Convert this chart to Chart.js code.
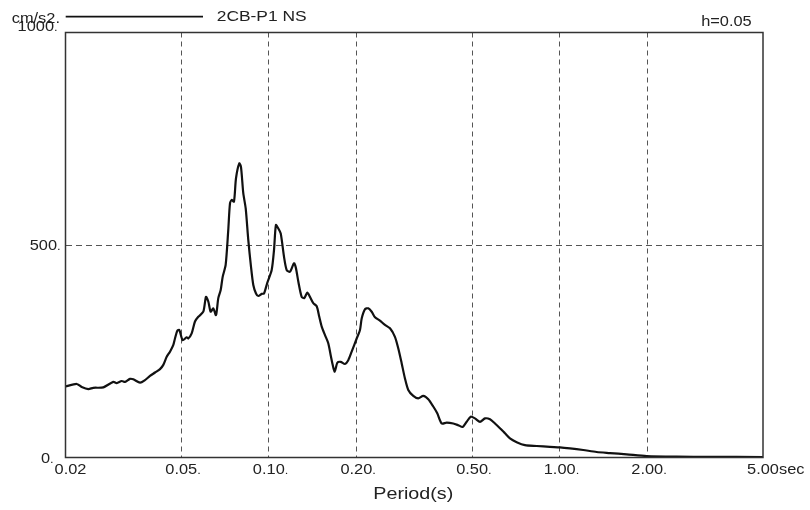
<!DOCTYPE html>
<html><head><meta charset="utf-8">
<script src="https://cdn.jsdelivr.net/npm/chart.js@4"></script>
<style>html,body{margin:0;padding:0;background:#fff}#wrap{width:810px;height:510px;position:relative}canvas{display:block}</style>
</head><body><div id="wrap"><canvas id="c" width="810" height="510"></canvas></div>
<script>
const periods = [0.02, 0.02186, 0.02274, 0.02396, 0.02492, 0.02698, 0.0292, 0.0300, 0.03122, 0.03204,
  0.03332, 0.0342, 0.03608, 0.03752, 0.03904, 0.04062, 0.04226, 0.04338, 0.04456, 0.04574,
  0.04696, 0.04758, 0.04846, 0.04924, 0.05058, 0.0522, 0.05286, 0.0543, 0.05574, 0.05722,
  0.05954, 0.06082, 0.06194, 0.06312, 0.06444, 0.06582, 0.06704, 0.06832, 0.0694, 0.07106,
  0.07254, 0.07354, 0.07454, 0.0759, 0.07712, 0.07916, 0.08022, 0.0817, 0.08328, 0.085,
  0.08684, 0.08844, 0.09036, 0.09202, 0.09452, 0.09626, 0.0988, 0.1023, 0.1042, 0.1058,
  0.1078, 0.1099, 0.1128, 0.1152, 0.1182, 0.1221, 0.1240, 0.1263, 0.1297, 0.1324,
  0.1356, 0.1385, 0.1422, 0.1461, 0.1491, 0.1520, 0.1560, 0.1601, 0.1636, 0.1658,
  0.1685, 0.1720, 0.1766, 0.1827, 0.1876, 0.1927, 0.2005, 0.2058, 0.2086, 0.2142,
  0.2198, 0.2258, 0.2318, 0.2410, 0.2508, 0.2610, 0.2714, 0.2786, 0.2862, 0.2938,
  0.3016, 0.3138, 0.3264, 0.3396, 0.3534, 0.3676, 0.3794, 0.3930, 0.4088, 0.4306,
  0.4480, 0.4640, 0.4788, 0.4944, 0.5114, 0.5322, 0.5536, 0.5760, 0.5992, 0.6232,
  0.6484, 0.6746, 0.7114, 0.7596, 0.8334, 0.9258, 1.002, 1.085, 1.205, 1.340,
  1.489, 1.699, 1.991, 2.524, 3.286, 5.0];
const accel = [167, 173, 166, 161, 164, 165, 178, 175, 180, 178,
  185, 184, 176, 182, 192, 200, 208, 218, 237, 249,
  265, 280, 298, 300, 276, 283, 280, 292, 320, 331,
  343, 378, 367, 343, 351, 335, 375, 394, 425, 453,
  535, 598, 606, 602, 657, 692, 684, 622, 586, 512,
  449, 406, 386, 380, 385, 386, 411, 441, 488, 547,
  539, 527, 472, 441, 437, 457, 445, 414, 378, 375,
  388, 378, 363, 356, 331, 308, 288, 269, 237, 218,
  202, 223, 225, 220, 229, 249, 280, 300, 327, 349,
  351, 343, 330, 322, 312, 304, 284, 257, 222, 186,
  159, 145, 139, 145, 137, 120, 104, 80, 82, 80,
  76, 72, 84, 96, 92, 84, 92, 90, 80, 69,
  57, 45, 36, 29, 27, 25, 24, 21.6, 17.6, 13,
  10.5, 7.5, 3.5, 2, 1.5, 1];
const xTicks = [0.02, 0.05, 0.1, 0.2, 0.5, 1, 2, 5];
const xTickLabels = ["0.02", "0.05", "0.10", "0.20", "0.50", "1.00", "2.00", "5.00"];
const xTickSuffix = ["", ".", ".", ".", ".", ".", ".", "sec"];
const yTicks = [0, 500, 1000];
const yTickLabels = ["0", "500", "1000"];
const seriesName = "2CB-P1 NS";
const yUnit = "cm/s2.";
const dampingNote = "h=0.05";
const xTitle = "Period(s)";

const FONT = '"Liberation Sans", Arial, sans-serif';
const SX = 1.17;
function txt(ctx, s, x, y, size, align, sx) {
  sx = sx || SX;
  ctx.save();
  ctx.font = size + 'px ' + FONT;
  ctx.textBaseline = 'alphabetic';
  const w = ctx.measureText(s).width * sx;
  let x0 = x;
  if (align === 'center') x0 = x - w / 2;
  else if (align === 'right') x0 = x - w;
  ctx.translate(x0, y);
  ctx.scale(sx, 1);
  ctx.textAlign = 'left';
  ctx.fillText(s, 0, 0);
  ctx.restore();
  return w;
}

const decor = {
  id: 'decor',
  afterDatasetsDraw(chart) {
    const ctx = chart.ctx, a = chart.chartArea;
    ctx.save();
    ctx.strokeStyle = '#333';
    ctx.lineWidth = 1.5;
    ctx.strokeRect(a.left, a.top, a.right - a.left, a.bottom - a.top);
    ctx.restore();
  },
  afterDraw(chart) {
    const ctx = chart.ctx, xs = chart.scales.x, ys = chart.scales.y;
    ctx.save();
    ctx.fillStyle = '#222';
    xTicks.forEach((v, i) => {
      let px = xs.getPixelForValue(v);
      if (i === 0) px += 5;
      const w = txt(ctx, xTickLabels[i], px, 473.5, 14, 'center');
      if (xTickSuffix[i]) {
        const sz = xTickSuffix[i] === '.' ? 11 : 14;
        txt(ctx, xTickSuffix[i], px + w / 2, 473.5, sz, 'left');
      }
    });
    yTicks.forEach((v, i) => {
      const py = ys.getPixelForValue(v);
      const base = v === 0 ? 463 : (v === 1000 ? 30.5 : py + 5);
      const right = v === 0 ? 50 : (v === 500 ? 57 : 54);
      txt(ctx, yTickLabels[i], right, base, 14, 'right');
      txt(ctx, '.', right, base, 11, 'left');
    });
    txt(ctx, yUnit, 11.7, 22.5, 14, 'left');
    ctx.strokeStyle = '#111';
    ctx.lineWidth = 1.8;
    ctx.beginPath();
    ctx.moveTo(65.7, 16.7);
    ctx.lineTo(203, 16.7);
    ctx.stroke();
    txt(ctx, seriesName, 216.7, 20.7, 14.5, 'left', 1.2);
    txt(ctx, dampingNote, 751.7, 26, 14, 'right');
    txt(ctx, xTitle, 373.3, 499, 17, 'left', 1.16);
    ctx.restore();
  }
};

const gridColor = (borderVals) => (c) => (c.tick && borderVals.includes(c.tick.value)) ? 'rgba(0,0,0,0)' : '#555';

new Chart(document.getElementById('c'), {
  type: 'line',
  data: {
    datasets: [{
      label: seriesName,
      data: periods.map((p, i) => ({ x: p, y: accel[i] })),
      borderColor: '#111',
      borderWidth: 2.2,
      borderJoinStyle: 'round',
      borderCapStyle: 'round',
      pointRadius: 0,
      tension: 0.25,
      fill: false
    }]
  },
  options: {
    responsive: false,
    animation: false,
    layout: { padding: { left: 65.5, top: 32.5, right: 47, bottom: 52.5 } },
    plugins: { legend: { display: false }, tooltip: { enabled: false } },
    scales: {
      x: {
        type: 'logarithmic', min: 0.02, max: 5,
        afterBuildTicks: (s) => { s.ticks = xTicks.map(v => ({ value: v })); },
        afterFit: (s) => { s.height = 0; },
        ticks: { display: false },
        grid: { drawTicks: false, color: gridColor([0.02, 5]), lineWidth: 1 },
        border: { display: false, dash: [5, 4] }
      },
      y: {
        type: 'linear', min: 0, max: 1000,
        afterBuildTicks: (s) => { s.ticks = yTicks.map(v => ({ value: v })); },
        afterFit: (s) => { s.width = 0; },
        ticks: { display: false },
        grid: { drawTicks: false, color: gridColor([0, 1000]), lineWidth: 1 },
        border: { display: false, dash: [6, 4] }
      }
    }
  },
  plugins: [decor]
});
</script>
</body></html>
